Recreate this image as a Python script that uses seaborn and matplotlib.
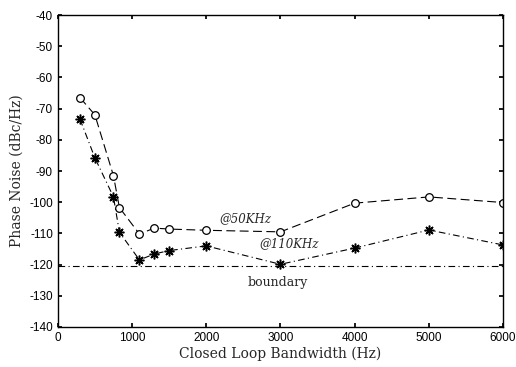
import matplotlib
matplotlib.use("Agg")
import matplotlib.pyplot as plt
import seaborn as sns
import pandas as pd

bandwidth = [300, 500, 750, 830, 1100, 1300, 1500, 2000, 3000, 4000, 5000, 6000]
noise_50k = [-66.5, -72, -91.5, -101.7, -110.2, -108.3, -108.6, -109, -109.5, -100.3, -98.3, -100.1]
noise_110k = [-73.4, -85.8, -98.3, -109.6, -118.5, -116.6, -115.5, -114, -119.9, -114.7, -108.9, -113.7]
boundary_x = [0, 6000]
boundary_y = [-120.6, -120.6]

sns.set_theme(style="ticks")
plt.rcParams['font.family'] = ['Liberation Sans', 'DejaVu Sans']
plt.rcParams['axes.unicode_minus'] = False

fig = plt.figure(figsize=(5.16, 3.67), dpi=100)
ax = fig.add_axes([0.112, 0.109, 0.863, 0.850])

df50 = pd.DataFrame({"bw": bandwidth, "pn": noise_50k})
df110 = pd.DataFrame({"bw": bandwidth, "pn": noise_110k})
dfb = pd.DataFrame({"bw": boundary_x, "pn": boundary_y})

sns.lineplot(data=df50, x="bw", y="pn", ax=ax, color="black", linewidth=0.8,
             marker="o", markersize=5.5, markerfacecolor="white", markeredgecolor="black",
             markeredgewidth=0.9, linestyle=(0, (8, 4)))
sns.lineplot(data=df110, x="bw", y="pn", ax=ax, color="black", linewidth=0.8,
             marker=(8, 2, 0), markersize=7, markerfacecolor="black", markeredgecolor="black",
             markeredgewidth=1.1, linestyle=(0, (6, 3, 1, 3)))
sns.lineplot(data=dfb, x="bw", y="pn", ax=ax, color="black", linewidth=0.8,
             linestyle=(0, (6, 3, 1, 3)))

ax.set_xlim(0, 6000)
ax.set_ylim(-140, -40)
ax.set_xticks(range(0, 6001, 1000))
ax.set_yticks(range(-140, -39, 10))
ax.tick_params(direction="in", length=3, top=True, right=True, labelsize=8.5, colors="black")
for s in ax.spines.values():
    s.set_linewidth(1.0)
    s.set_color("black")
    s.set_visible(True)

ax.set_xlabel("Closed Loop Bandwidth (Hz)", family=["DejaVu Serif"], fontsize=10, labelpad=2)
ax.set_ylabel("Phase Noise (dBc/Hz)", family=["DejaVu Serif"], fontsize=10)

ax.text(2180, -106.5, "@50KHz", family=["DejaVu Serif"], style="italic", fontsize=8.5)
ax.text(2720, -114.3, "@110KHz", family=["DejaVu Serif"], style="italic", fontsize=8.5)
ax.text(2560, -126.8, "boundary", family=["DejaVu Serif"], fontsize=9)

fig.savefig("out.png", dpi=100)
